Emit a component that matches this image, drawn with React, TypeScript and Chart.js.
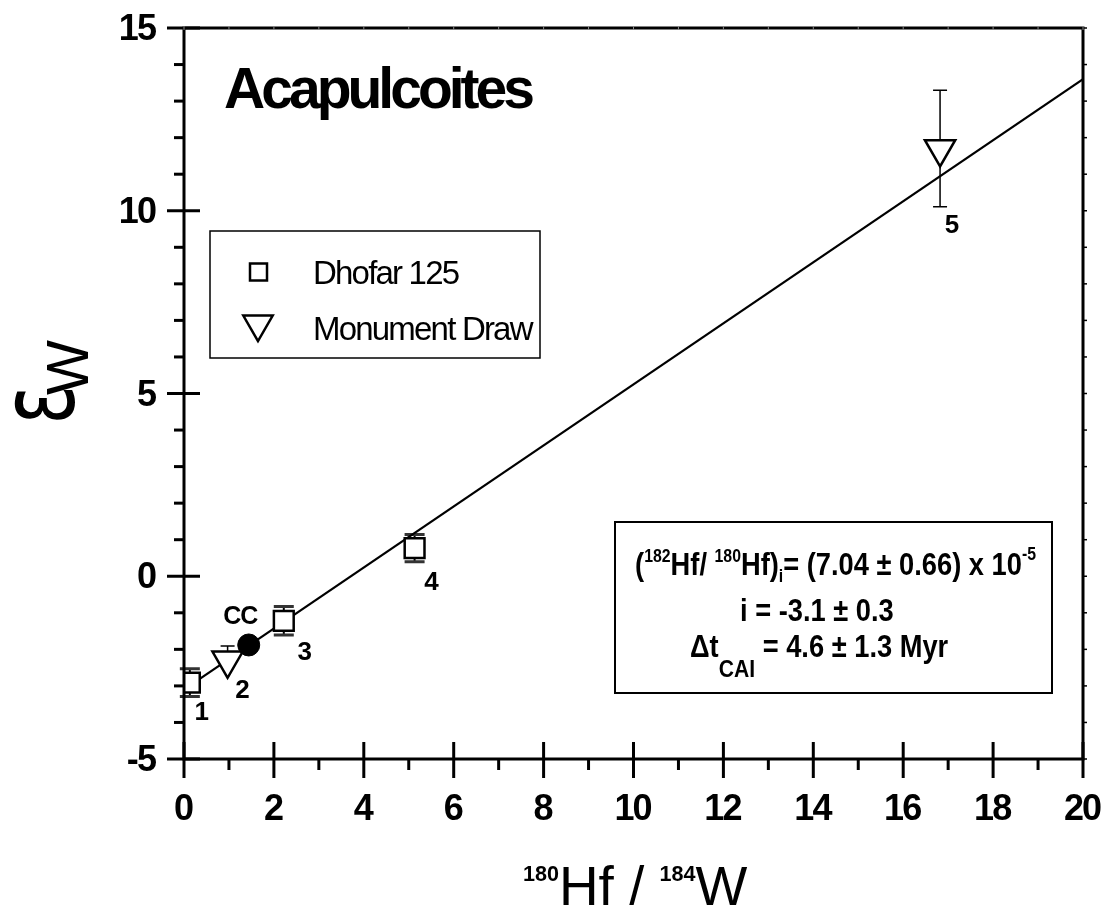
import React, { useEffect, useRef } from "react";
import { Chart, registerables } from "chart.js";

Chart.register(...registerables);

// ---------------- data ----------------
const dhofarX = [0.13, 2.22, 5.13];
const dhofarY = [-2.91, -1.22, 0.77];
const dhofarErr = [0.38, 0.39, 0.37];
const dhofarLabels = ["1", "3", "4"];

const monumentX = [0.97, 16.82];
const monumentY = [-2.3, 11.69];
const monumentErrPlus = [0.39, 1.61];
const monumentErrMinus = [0, 1.58];
const monumentLabels = ["2", "5"];

const ccX = [1.44];
const ccY = [-1.88];
const ccLabels = ["CC"];

const fitX = [0, 20];
const fitY = [-3.1, 13.6];

const xTickValues = [0, 2, 4, 6, 8, 10, 12, 14, 16, 18, 20];
const yTickValues = [-5, 0, 5, 10, 15];

const titleText = "Acapulcoites";
const legendNames = ["Dhofar 125", "Monument Draw"];

// ---------------- drawing helpers ----------------
const SANS = "'Liberation Sans', Arial, sans-serif";

type Seg = { t: string; font: string; dy?: number; ls?: number };

function measureSeg(ctx: CanvasRenderingContext2D, s: Seg, sx: number, defLs: number) {
  ctx.font = s.font;
  (ctx as any).letterSpacing = "0px";
  const ls = s.ls !== undefined ? s.ls : defLs;
  return (ctx.measureText(s.t).width + ls * s.t.length) * sx;
}

function drawRich(
  ctx: CanvasRenderingContext2D,
  segs: Seg[],
  x: number,
  y: number,
  align: "left" | "center" | "right",
  sx = 1,
  defLs = 0
) {
  let total = 0;
  for (const s of segs) total += measureSeg(ctx, s, sx, defLs);
  const lastLs = segs.length ? (segs[segs.length - 1].ls ?? defLs) : 0;
  const visible = total - lastLs * sx;
  let cx = align === "left" ? x : align === "center" ? x - visible / 2 : x - visible;
  ctx.textAlign = "left";
  ctx.textBaseline = "alphabetic";
  for (const s of segs) {
    const w = measureSeg(ctx, s, sx, defLs);
    const ls = s.ls !== undefined ? s.ls : defLs;
    ctx.save();
    ctx.font = s.font;
    (ctx as any).letterSpacing = `${ls}px`;
    ctx.translate(cx, y + (s.dy || 0));
    ctx.scale(sx, 1);
    ctx.fillText(s.t, 0, 0);
    ctx.restore();
    cx += w;
  }
  (ctx as any).letterSpacing = "0px";
}

function fitGlyph(
  ctx: CanvasRenderingContext2D,
  t: string,
  font: string,
  x0: number,
  y0: number,
  w: number,
  h: number
) {
  ctx.font = font;
  (ctx as any).letterSpacing = "0px";
  ctx.textAlign = "left";
  ctx.textBaseline = "alphabetic";
  const m = ctx.measureText(t);
  const L = m.actualBoundingBoxLeft;
  const R = m.actualBoundingBoxRight;
  const A = m.actualBoundingBoxAscent;
  const D = m.actualBoundingBoxDescent;
  const sx = w / (L + R);
  const sy = h / (A + D);
  ctx.save();
  ctx.translate(x0 + L * sx, y0 + A * sy);
  ctx.scale(sx, sy);
  ctx.fillText(t, 0, 0);
  ctx.restore();
}

function drawDownTriangle(ctx: CanvasRenderingContext2D, x: number, y: number, r: number, lw: number) {
  ctx.beginPath();
  for (let k = 0; k < 3; k++) {
    const a = Math.PI + (k * 2 * Math.PI) / 3;
    const px = x + Math.sin(a) * r;
    const py = y - Math.cos(a) * r;
    if (k === 0) ctx.moveTo(px, py);
    else ctx.lineTo(px, py);
  }
  ctx.closePath();
  ctx.fillStyle = "#fff";
  ctx.fill();
  ctx.lineWidth = lw;
  ctx.strokeStyle = "#000";
  ctx.stroke();
}

// label offsets (pixels) relative to their points
const dhofarLabelOffsets = [
  [12, 37],
  [21, 39],
  [17, 42],
];
const monumentLabelOffsets = [
  [15, 38],
  [12, 84],
];
const ccLabelOffsets = [[-8, -21]];

const decorPlugin = {
  id: "decor",
  beforeDraw(chart: any) {
    const ctx = chart.ctx as CanvasRenderingContext2D;
    ctx.save();
    ctx.fillStyle = "#fff";
    ctx.fillRect(0, 0, chart.width, chart.height);
    ctx.restore();
  },
  beforeDatasetsDraw(chart: any) {
    const ctx = chart.ctx as CanvasRenderingContext2D;
    const xs = chart.scales.x;
    const ys = chart.scales.y;
    ctx.save();
    // Dhofar error bars
    dhofarX.forEach((xv, i) => {
      const px = xs.getPixelForValue(xv);
      const top = ys.getPixelForValue(dhofarY[i] + dhofarErr[i]);
      const bot = ys.getPixelForValue(dhofarY[i] - dhofarErr[i]);
      ctx.lineWidth = 2;
      ctx.strokeStyle = "#000";
      ctx.beginPath();
      ctx.moveTo(px, top);
      ctx.lineTo(px, bot);
      ctx.stroke();
      ctx.lineWidth = 3;
      ctx.strokeStyle = "#333";
      ctx.beginPath();
      ctx.moveTo(px - 10, top);
      ctx.lineTo(px + 10, top);
      ctx.moveTo(px - 10, bot);
      ctx.lineTo(px + 10, bot);
      ctx.stroke();
    });
    // Monument Draw error bars
    ctx.strokeStyle = "#000";
    monumentX.forEach((xv, i) => {
      const px = xs.getPixelForValue(xv);
      const top = ys.getPixelForValue(monumentY[i] + monumentErrPlus[i]);
      const bot = ys.getPixelForValue(monumentY[i] - monumentErrMinus[i]);
      ctx.lineWidth = 1.5;
      ctx.beginPath();
      ctx.moveTo(px, top);
      ctx.lineTo(px, bot);
      ctx.moveTo(px - 7, top);
      ctx.lineTo(px + 7, top);
      if (monumentErrMinus[i] > 0) {
        ctx.moveTo(px - 7, bot);
        ctx.lineTo(px + 7, bot);
      }
      ctx.stroke();
    });
    ctx.restore();
  },
  afterDatasetsDraw(chart: any) {
    const ctx = chart.ctx as CanvasRenderingContext2D;
    const xs = chart.scales.x;
    const ys = chart.scales.y;
    const area = chart.chartArea;
    const L = area.left,
      R = area.right,
      T = area.top,
      B = area.bottom;
    ctx.save();
    ctx.fillStyle = "#000";
    ctx.strokeStyle = "#000";

    // frame
    ctx.lineWidth = 3;
    ctx.strokeRect(L, T, R - L, B - T);

    // left axis ticks
    for (let v = -5; v <= 15; v++) {
      const py = ys.getPixelForValue(v);
      ctx.beginPath();
      if (v % 5 === 0) {
        ctx.moveTo(L - 17, py);
        ctx.lineTo(L + 16, py);
      } else {
        ctx.moveTo(L - 10, py);
        ctx.lineTo(L, py);
      }
      ctx.stroke();
    }
    // bottom axis ticks
    for (let v = 0; v <= 20; v++) {
      const px = xs.getPixelForValue(v);
      ctx.beginPath();
      if (v % 2 === 0) {
        ctx.moveTo(px, B - 17);
        ctx.lineTo(px, B + 19);
      } else {
        ctx.moveTo(px, B);
        ctx.lineTo(px, B + 11);
      }
      ctx.stroke();
    }
    // right axis small ticks
    ctx.lineWidth = 1.5;
    for (let v = -5; v <= 15; v++) {
      const py = ys.getPixelForValue(v);
      ctx.beginPath();
      ctx.moveTo(R, py);
      ctx.lineTo(R + 4, py);
      ctx.stroke();
    }
    // top axis faint ticks
    ctx.strokeStyle = "#888";
    ctx.lineWidth = 1;
    for (let v = 0; v <= 20; v++) {
      const px = xs.getPixelForValue(v);
      ctx.beginPath();
      ctx.moveTo(px, T - 2);
      ctx.lineTo(px, T + 2);
      ctx.stroke();
    }
    ctx.strokeStyle = "#000";

    // tick labels
    const tickFont = `bold 36px ${SANS}`;
    yTickValues.forEach((v) => {
      const py = ys.getPixelForValue(v);
      drawRich(ctx, [{ t: String(v), font: tickFont }], 157, py + 12, "right", 1, -1.8);
    });
    xTickValues.forEach((v) => {
      const px = xs.getPixelForValue(v);
      drawRich(ctx, [{ t: String(v), font: tickFont }], px, 820, "center", 1, -1.8);
    });

    // point labels
    const lblFont = `bold 26px ${SANS}`;
    dhofarLabels.forEach((t, i) => {
      const px = xs.getPixelForValue(dhofarX[i]) + dhofarLabelOffsets[i][0];
      const py = ys.getPixelForValue(dhofarY[i]) + dhofarLabelOffsets[i][1];
      drawRich(ctx, [{ t, font: lblFont }], px, py, "center", 1, -1);
    });
    monumentLabels.forEach((t, i) => {
      const px = xs.getPixelForValue(monumentX[i]) + monumentLabelOffsets[i][0];
      const py = ys.getPixelForValue(monumentY[i]) + monumentLabelOffsets[i][1];
      drawRich(ctx, [{ t, font: lblFont }], px, py, "center", 1, -1);
    });
    ccLabels.forEach((t, i) => {
      const px = xs.getPixelForValue(ccX[i]) + ccLabelOffsets[i][0];
      const py = ys.getPixelForValue(ccY[i]) + ccLabelOffsets[i][1];
      drawRich(ctx, [{ t, font: `bold 25px ${SANS}` }], px, py, "center", 1, -1);
    });

    // title
    {
      const tf = `bold 57px ${SANS}`;
      ctx.font = tf;
      (ctx as any).letterSpacing = "0px";
      const tw = ctx.measureText(titleText).width;
      const ls = (311 - tw) / (titleText.length - 1);
      drawRich(ctx, [{ t: titleText, font: tf }], 224, 108, "left", 1, ls);
    }

    // legend
    ctx.lineWidth = 1.5;
    ctx.strokeRect(210, 231, 330, 127);
    ctx.lineWidth = 2.5;
    ctx.fillStyle = "#fff";
    ctx.fillRect(250, 263.5, 17, 17);
    ctx.strokeRect(250, 263.5, 17, 17);
    drawDownTriangle(ctx, 258, 324, 17, 2.5);
    ctx.fillStyle = "#000";
    const legFont = `33px ${SANS}`;
    drawRich(ctx, [{ t: legendNames[0], font: legFont }], 313, 284, "left", 1, -1.8);
    drawRich(ctx, [{ t: legendNames[1], font: legFont }], 313, 340, "left", 1, -1.8);

    // inset box
    ctx.lineWidth = 2;
    ctx.strokeRect(615, 522, 437, 171);
    const b = `bold 31px ${SANS}`;
    const sup = `bold 18px ${SANS}`;
    const ISX = 0.88;
    drawRich(
      ctx,
      [
        { t: "(", font: b },
        { t: "182", font: sup, dy: -13 },
        { t: "Hf/ ", font: b },
        { t: "180", font: sup, dy: -13 },
        { t: "Hf)", font: b },
        { t: "i", font: sup, dy: 7 },
        { t: "= (7.04 \u00b1 0.66) x 10", font: b },
        { t: "-5", font: sup, dy: -15 },
      ],
      1036,
      575,
      "right",
      ISX
    );
    drawRich(ctx, [{ t: "i = -3.1 \u00b1 0.3", font: b }], 740, 621, "left", ISX);
    drawRich(
      ctx,
      [
        { t: "\u0394t", font: b },
        { t: "CAI", font: `bold 24px ${SANS}`, dy: 20 },
        { t: " = 4.6 \u00b1 1.3 Myr", font: b },
      ],
      690,
      657,
      "left",
      ISX
    );

    // x-axis title
    drawRich(
      ctx,
      [
        { t: "180", font: `bold 22px ${SANS}`, dy: -24 },
        { t: "Hf / ", font: `56px ${SANS}` },
        { t: "184", font: `bold 22px ${SANS}`, dy: -24 },
        { t: "W", font: `56px ${SANS}` },
      ],
      523,
      905,
      "left",
      0.98
    );

    // y-axis title (rotated)
    ctx.save();
    ctx.translate(0, 430);
    ctx.rotate(-Math.PI / 2);
    fitGlyph(ctx, "\u03b5", `80px 'DejaVu Sans', sans-serif`, 10, 13, 30, 62);
    ctx.font = `60px ${SANS}`;
    ctx.textAlign = "left";
    ctx.textBaseline = "alphabetic";
    ctx.save();
    ctx.translate(35, 88);
    ctx.scale(0.97, 1);
    ctx.fillText("W", 0, 0);
    ctx.restore();
    ctx.restore();

    ctx.restore();
  },
};

export default function App() {
  const ref = useRef<HTMLCanvasElement | null>(null);

  useEffect(() => {
    if (!ref.current) return;
    const chart = new Chart(ref.current, {
      type: "scatter",
      data: {
        datasets: [
          {
            type: "line",
            label: "fit",
            data: fitX.map((x, i) => ({ x, y: fitY[i] })),
            borderColor: "#000",
            borderWidth: 2,
            pointRadius: 0,
            fill: false,
            order: 5,
          } as any,
          {
            label: legendNames[0],
            data: dhofarX.map((x, i) => ({ x, y: dhofarY[i] })),
            pointStyle: "rect",
            pointRadius: 14,
            backgroundColor: "#fff",
            borderColor: "#000",
            borderWidth: 2.5,
            order: 1,
          },
          {
            label: legendNames[1],
            data: monumentX.map((x, i) => ({ x, y: monumentY[i] })),
            pointStyle: "triangle",
            rotation: 180,
            pointRadius: 17.5,
            backgroundColor: "#fff",
            borderColor: "#000",
            borderWidth: 2.5,
            order: 1,
          },
          {
            label: "CC",
            data: ccX.map((x, i) => ({ x, y: ccY[i] })),
            pointStyle: "circle",
            pointRadius: 11,
            backgroundColor: "#000",
            borderColor: "#000",
            borderWidth: 1,
            order: 0,
          },
        ],
      },
      options: {
        animation: false,
        responsive: false,
        devicePixelRatio: 1,
        layout: { padding: { left: 184, top: 28, right: 24, bottom: 146 } },
        scales: {
          x: { type: "linear", min: 0, max: 20, display: false },
          y: { type: "linear", min: -5, max: 15, display: false },
        },
        plugins: {
          legend: { display: false },
          tooltip: { enabled: false },
        },
      },
      plugins: [decorPlugin],
    });
    return () => chart.destroy();
  }, []);

  return (
    <div style={{ position: "absolute", left: 0, top: 0, width: 1107, height: 905, background: "#fff" }}>
      <canvas ref={ref} width={1107} height={905} style={{ width: 1107, height: 905, display: "block" }} />
    </div>
  );
}
